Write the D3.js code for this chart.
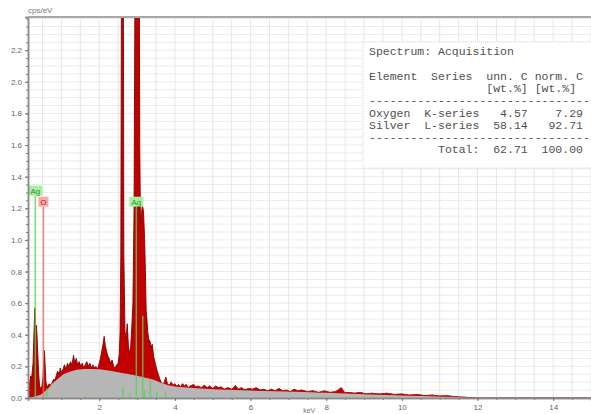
<!DOCTYPE html>
<html>
<head>
<meta charset="utf-8">
<script src="https://cdn.jsdelivr.net/npm/d3@7"></script>
<style>
	body { margin: 0; background: #fff; }
	svg { display: block; font-family: "Liberation Sans", Arial, sans-serif; }
</style>
</head>
<body>
<div id="chart"></div>
<script>
const energyKeV = [
	0.12, 0.13, 0.16, 0.19, 0.21, 0.23, 0.25, 0.27, 0.29, 0.30, 0.31, 0.32, 0.34, 0.36, 0.38, 0.40,
	0.42, 0.45, 0.48, 0.51, 0.53, 0.55, 0.57, 0.59, 0.62, 0.65, 0.68, 0.72, 0.76, 0.80, 0.83, 0.86,
	0.90, 0.94, 0.97, 1.00, 1.04, 1.08, 1.12, 1.16, 1.20, 1.24, 1.28, 1.32, 1.35, 1.39, 1.43, 1.47,
	1.51, 1.55, 1.59, 1.63, 1.67, 1.71, 1.75, 1.79, 1.83, 1.87, 1.91, 1.95, 1.99, 2.03, 2.07, 2.10,
	2.13, 2.16, 2.19, 2.22, 2.26, 2.30, 2.34, 2.38, 2.42, 2.46, 2.50, 2.53, 2.55, 2.57, 2.59, 2.61,
	2.63, 2.65, 2.68, 2.71, 2.74, 2.77, 2.80, 2.83, 2.86, 2.89, 2.92, 2.95, 2.98, 3.02, 3.05, 3.07,
	3.09, 3.11, 3.14, 3.17, 3.20, 3.22, 3.24, 3.26, 3.28, 3.31, 3.34, 3.37, 3.40, 3.44, 3.48, 3.52,
	3.56, 3.60, 3.64, 3.68, 3.72, 3.76, 3.80, 3.85, 3.90, 3.95, 4.00, 4.05, 4.10, 4.15, 4.20, 4.25,
	4.30, 4.35, 4.40, 4.50, 4.55, 4.62, 4.70, 4.78, 4.85, 4.92, 5.00, 5.08, 5.15, 5.22, 5.30, 5.40,
	5.50, 5.60, 5.68, 5.76, 5.85, 5.95, 6.05, 6.15, 6.25, 6.35, 6.45, 6.55, 6.65, 6.75, 6.85, 6.95,
	7.05, 7.15, 7.25, 7.35, 7.50, 7.65, 7.80, 7.95, 8.10, 8.25, 8.40, 8.48, 8.60, 8.75, 8.90, 9.05,
	9.20, 9.40, 9.60, 9.80, 10.00, 10.20, 10.40, 10.60, 10.80, 11.00, 11.20, 11.40, 11.70, 12.00, 15.00
];
const spectrumCps = [
	0.00, 0.03, 0.10, 0.14, 0.12, 0.17, 0.22, 0.38, 0.52, 0.57, 0.50, 0.44, 0.46, 0.36, 0.25, 0.15,
	0.08, 0.06, 0.07, 0.12, 0.22, 0.30, 0.20, 0.10, 0.07, 0.08, 0.09, 0.08, 0.10, 0.12, 0.11, 0.14,
	0.17, 0.15, 0.19, 0.16, 0.18, 0.21, 0.18, 0.22, 0.20, 0.23, 0.21, 0.27, 0.22, 0.25, 0.21, 0.23,
	0.20, 0.22, 0.19, 0.21, 0.23, 0.20, 0.22, 0.19, 0.21, 0.19, 0.20, 0.18, 0.21, 0.25, 0.30, 0.34,
	0.39, 0.33, 0.30, 0.27, 0.25, 0.22, 0.24, 0.20, 0.19, 0.21, 0.22, 0.28, 0.42, 0.90, 3.00, 6.00,
	3.50, 0.90, 0.42, 0.38, 0.47, 0.33, 0.28, 0.32, 0.45, 0.60, 1.20, 3.00, 6.00, 6.00, 3.50, 1.60,
	1.10, 1.15, 1.22, 1.18, 1.00, 0.79, 0.55, 0.50, 0.42, 0.37, 0.36, 0.32, 0.34, 0.26, 0.22, 0.18,
	0.15, 0.12, 0.10, 0.09, 0.10, 0.13, 0.09, 0.08, 0.10, 0.08, 0.09, 0.075, 0.085, 0.07, 0.09, 0.075,
	0.085, 0.065, 0.075, 0.085, 0.07, 0.075, 0.065, 0.08, 0.065, 0.075, 0.06, 0.075, 0.065, 0.07, 0.055, 0.065,
	0.055, 0.078, 0.055, 0.065, 0.05, 0.06, 0.055, 0.065, 0.05, 0.055, 0.045, 0.055, 0.045, 0.06, 0.045, 0.05,
	0.04, 0.055, 0.045, 0.05, 0.04, 0.045, 0.035, 0.045, 0.035, 0.04, 0.065, 0.035, 0.035, 0.03, 0.035, 0.025,
	0.03, 0.025, 0.03, 0.022, 0.025, 0.018, 0.022, 0.015, 0.018, 0.012, 0.014, 0.008, 0.004, 0.00, 0.00
];

// bremsstrahlung background (grey)
const bgEnergyKeV = [0.12, 0.30, 0.45, 0.55, 0.65, 0.75, 0.90, 1.05, 1.20, 1.40, 1.60, 1.80, 2.00, 2.20, 2.40,
	2.60, 2.80, 3.00, 3.20, 3.40, 3.60, 3.80, 4.00, 4.40, 5.00, 6.00, 7.00, 8.00, 9.00, 10.00, 11.00, 12.00, 13.00, 15.00];
const bgCps = [0.00, 0.01, 0.02, 0.04, 0.06, 0.09, 0.12, 0.15, 0.165, 0.178, 0.183, 0.184, 0.182, 0.175, 0.167,
	0.158, 0.150, 0.140, 0.130, 0.118, 0.100, 0.082, 0.072, 0.065, 0.056, 0.047, 0.041, 0.033, 0.024, 0.016, 0.009, 0.003, 0.00, 0.00];

// element line markers
const markerEnergyKeV = [0.31, 0.525, 0.61, 2.63, 2.81, 2.98, 3.15, 3.20, 3.35, 3.52, 3.75];
const markerTopCps = [1.28, 1.21, 0.06, 0.07, 0.03, 1.21, 0.52, 0.05, 0.12, 0.04, 0.04];
const markerElement = ["Ag", "O", "Ag", "Ag", "Ag", "Ag", "Ag", "Ag", "Ag", "Ag", "Ag"];
const labelIndex = [0, 1, 5];

const yTicks = [0.0, 0.2, 0.4, 0.6, 0.8, 1.0, 1.2, 1.4, 1.6, 1.8, 2.0, 2.2];
const xTicks = [2, 4, 6, 8, 10, 12, 14];

// quantification table lines (the part that fits in the window)
const tableLines = [
	"Spectrum: Acquisition",
	"",
	"Element  Series  unn. C norm. C",
	"                 [wt.%] [wt.%]",
	"--------------------------------",
	"Oxygen  K-series   4.57    7.29",
	"Silver  L-series  58.14   92.71",
	"--------------------------------",
	"          Total:  62.71  100.00"
];

const W = 591, H = 414;
const margins = { L: 28, R: 0, T: 17, B: 16 };
const width = W - margins.L - margins.R;
const height = H - margins.T - margins.B;

const COLORS = { Ag: "#55d655", O: "#e86a6a" };
const LABEL_FILL = { Ag: "#a6f0a0", O: "#f5aaaa" };
const LABEL_TEXT = { Ag: "#3b8a3b", O: "#c02020" };

const svg = d3.select("#chart").append("svg")
	.attr("width", W)
	.attr("height", H);

const g = svg.append("g")
	.attr("transform", "translate(" + margins.L + "," + margins.T + ")");

const x = d3.scaleLinear().domain([0.116, 15.0]).range([0, width]);
const y = d3.scaleLinear().domain([0, 2.41]).range([height, 0]);

svg.append("clipPath").attr("id", "plotclip")
	.append("rect").attr("width", width).attr("height", height);

// grid
const grid = g.append("g").attr("class", "grid");
grid.selectAll("line.h")
	.data(d3.range(0.05, 2.41, 0.05))
	.enter().append("line")
	.attr("x1", 0).attr("x2", width)
	.attr("y1", d => y(d)).attr("y2", d => y(d))
	.attr("stroke", "#ebebeb").attr("stroke-width", 1);
grid.selectAll("line.v")
	.data(d3.range(0.5, 15.01, 0.5))
	.enter().append("line")
	.attr("y1", 0).attr("y2", height)
	.attr("x1", d => x(d)).attr("x2", d => x(d))
	.attr("stroke", "#e6e6e6").attr("stroke-width", 1);

const plot = g.append("g").attr("clip-path", "url(#plotclip)");

const spectrum = energyKeV.map((e, i) => [e, spectrumCps[i]]);
const background = bgEnergyKeV.map((e, i) => [e, bgCps[i]]);

const area = d3.area().x(d => x(d[0])).y0(y(0)).y1(d => y(d[1]));
const line = d3.line().x(d => x(d[0])).y(d => y(d[1]));

plot.append("path").datum(spectrum)
	.attr("d", area)
	.attr("fill", "#c20000");
plot.append("path").datum(spectrum)
	.attr("d", line)
	.attr("fill", "none")
	.attr("stroke", "#820000")
	.attr("stroke-width", 0.9);
plot.append("path").datum(background)
	.attr("d", area)
	.attr("fill", "#b6b6b6");
// spectrum trace stays visible over the background
plot.append("path").datum(spectrum.filter(d => d[0] > 3.7))
	.attr("d", line)
	.attr("fill", "none")
	.attr("stroke", "#d01010")
	.attr("stroke-width", 0.8);

// element marker lines
plot.selectAll("line.marker")
	.data(markerEnergyKeV)
	.enter().append("line")
	.attr("x1", d => x(d)).attr("x2", d => x(d))
	.attr("y1", y(0))
	.attr("y2", (d, i) => y(markerTopCps[i]))
	.attr("stroke", (d, i) => COLORS[markerElement[i]])
	.attr("stroke-width", 1.5)
	.attr("opacity", 0.8);

const labels = plot.selectAll("g.label")
	.data(labelIndex)
	.enter().append("g")
	.attr("transform", i => "translate(" + x(markerEnergyKeV[i]) + "," + y(markerTopCps[i]) + ")");
labels.append("rect")
	.attr("x", i => markerElement[i] === "O" ? -5 : -7)
	.attr("y", -10)
	.attr("width", i => markerElement[i] === "O" ? 10 : 14)
	.attr("height", 10)
	.attr("fill", i => LABEL_FILL[markerElement[i]]);
labels.append("text")
	.attr("y", -2)
	.attr("text-anchor", "middle")
	.attr("font-size", 8)
	.attr("fill", i => LABEL_TEXT[markerElement[i]])
	.text(i => markerElement[i]);

// axes
const yAxis = d3.axisLeft(y).tickValues(yTicks).tickSize(3).tickFormat(d3.format(".1f"));
const yMinor = d3.axisLeft(y).tickValues(d3.range(0, 2.41, 0.05)).tickSize(2).tickFormat("");
const xAxis = d3.axisBottom(x).tickValues(xTicks).tickSize(3).tickFormat(d3.format("d"));
const xMinor = d3.axisBottom(x).tickValues(d3.range(0.5, 15.01, 0.5)).tickSize(2).tickFormat("");

function styleAxis(sel) {
	sel.selectAll("path").attr("stroke", "#8a8a8a").attr("stroke-width", 1.5);
	sel.selectAll("line").attr("stroke", "#777");
	sel.selectAll("text").attr("fill", "#666").attr("font-size", 8).attr("font-family", "Liberation Sans, Arial, sans-serif");
}

g.append("g").call(yMinor).call(styleAxis);
g.append("g").call(yAxis).call(styleAxis);
g.append("g").attr("transform", "translate(0," + height + ")").call(xMinor).call(styleAxis);
g.append("g").attr("transform", "translate(0," + height + ")").call(xAxis).call(styleAxis);

// top frame
g.append("line")
	.attr("x1", 0).attr("x2", width)
	.attr("y1", 0).attr("y2", 0)
	.attr("stroke", "#a8a8a8").attr("stroke-width", 2);

svg.append("text")
	.attr("x", margins.L).attr("y", 13)
	.attr("font-size", 8).attr("fill", "#777")
	.text("cps/eV");
svg.append("text")
	.attr("x", margins.L + x(7.55)).attr("y", 413)
	.attr("text-anchor", "middle")
	.attr("font-size", 7).attr("fill", "#777")
	.text("keV");

// quantification table box
const table = svg.append("g").attr("transform", "translate(363,42)");
table.append("rect")
	.attr("width", 240).attr("height", 126)
	.attr("fill", "#fff")
	.attr("stroke", "#d8d8d8")
	.attr("stroke-dasharray", "1,1");
table.selectAll("text")
	.data(tableLines)
	.enter().append("text")
	.attr("x", 6)
	.attr("y", (d, i) => 13 + i * 12.3)
	.attr("xml:space", "preserve")
	.style("white-space", "pre")
	.attr("font-family", "Liberation Mono, Courier New, monospace")
	.attr("font-size", 11.5)
	.attr("fill", "#505050")
	.text(d => d);
</script>
</body>
</html>
